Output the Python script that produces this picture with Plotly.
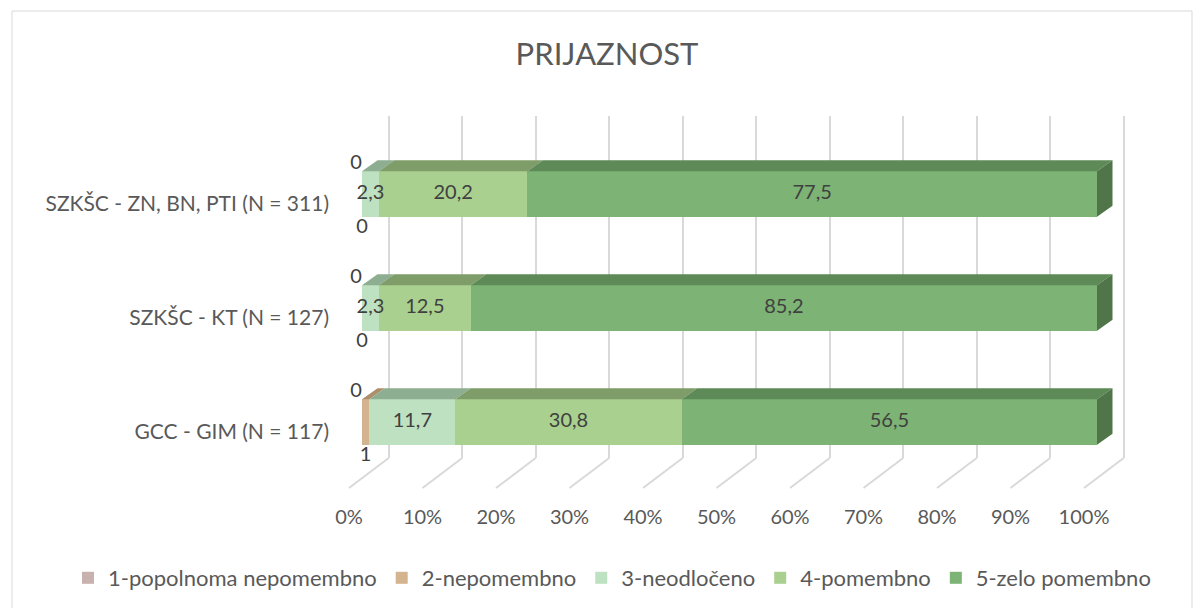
import plotly.graph_objects as go

# ---------------- data ----------------
categories = ["GCC - GIM (N = 117)", "SZKŠC - KT (N = 127)", "SZKŠC - ZN, BN, PTI (N = 311)"]
series_names = ["1-popolnoma nepomembno", "2-nepomembno", "3-neodločeno", "4-pomembno", "5-zelo pomembno"]
s1_values = [0, 0, 0]
s2_values = [1, 0, 0]
s3_values = [11.7, 2.3, 2.3]
s4_values = [30.8, 12.5, 20.2]
s5_values = [56.5, 85.2, 77.5]
x_tick_values = [0, 10, 20, 30, 40, 50, 60, 70, 80, 90, 100]
x_tick_labels = ["0%", "10%", "20%", "30%", "40%", "50%", "60%", "70%", "80%", "90%", "100%"]
title_text = "PRIJAZNOST"

series_values = [s1_values, s2_values, s3_values, s4_values, s5_values]

# ---------------- style ----------------
front_colors = ["#C9B1AE", "#D4B48E", "#BEE1C1", "#A9D08E", "#7DB375"]
top_colors = ["#A38E8B", "#AE8F6C", "#8EAE91", "#7F9D69", "#5D8A57"]
side_color = "#4F7548"
grid_color = "#D9D9D9"
text_color = "#595959"
label_color = "#404040"
FONT = "Lato, Calibri, Carlito, sans-serif"

W, H = 1203, 608
PL, PR, PT, PB = 330, 1150, 100, 503        # plot area in pixels
PX_PER = 7.35                                # px per percent
X0_FRONT, X0_WALL, X0_FLOOR = 362.0, 388.7, 349.0
Y_ROW0, ROW_STEP = 422.0, 114.0
HALF = 0.2                                   # half bar thickness (category units)
DEPTH_DX = 15.5 / PX_PER
DEPTH_DY = 11.0 / ROW_STEP
WALL_TOP_PX, WALL_BOTTOM_PX, FLOOR_FRONT_PX = 116, 458, 488
LABEL_DROP = 10.0 / ROW_STEP
TOP_LABEL_LIFT = 7.0 / ROW_STEP
BOTTOM_LABEL_DROP = 11.0 / ROW_STEP
FIRST_LABEL_SHIFT = -6.0 / PX_PER


def py(px):
    return (Y_ROW0 - px) / ROW_STEP


def fmt(v):
    return str(int(v)) if float(v).is_integer() else f"{v:.1f}".replace(".", ",")


fig = go.Figure()

# dummy trace so the back-wall grid subplot exists
fig.add_trace(go.Scatter(x=[], y=[], xaxis="x", yaxis="y", showlegend=False, hoverinfo="skip"))

# floor diagonals (from the tick values)
fx, fy = [], []
for t in x_tick_values:
    fx += [t + (X0_WALL - X0_FRONT) / PX_PER, t + (X0_FLOOR - X0_FRONT) / PX_PER, None]
    fy += [py(WALL_BOTTOM_PX), py(FLOOR_FRONT_PX), None]
fig.add_trace(go.Scatter(x=fx, y=fy, mode="lines", line=dict(color=grid_color, width=2),
                         xaxis="x2", yaxis="y2", showlegend=False, hoverinfo="skip"))

n_cat = len(categories)
y_pos = list(range(n_cat))

# top faces
cum = [0.0] * n_cat
for i, vals in enumerate(series_values):
    tx, ty = [], []
    for j in range(n_cat):
        x0, x1 = cum[j], cum[j] + vals[j]
        y1 = y_pos[j] + HALF
        tx += [x0, x1, x1 + DEPTH_DX, x0 + DEPTH_DX, x0, None]
        ty += [y1, y1, y1 + DEPTH_DY, y1 + DEPTH_DY, y1, None]
    fig.add_trace(go.Scatter(x=tx, y=ty, mode="lines", fill="toself", fillcolor=top_colors[i],
                             line=dict(width=0, color=top_colors[i]),
                             xaxis="x2", yaxis="y2", showlegend=False, hoverinfo="skip"))
    cum = [cum[j] + vals[j] for j in range(n_cat)]

# side faces at bar end
sx, sy = [], []
for j in range(n_cat):
    xe = cum[j]
    yb, yt = y_pos[j] - HALF, y_pos[j] + HALF
    sx += [xe, xe, xe + DEPTH_DX, xe + DEPTH_DX, xe, None]
    sy += [yb, yt, yt + DEPTH_DY, yb + DEPTH_DY, yb, None]
fig.add_trace(go.Scatter(x=sx, y=sy, mode="lines", fill="toself", fillcolor=side_color,
                         line=dict(width=0, color=side_color),
                         xaxis="x2", yaxis="y2", showlegend=False, hoverinfo="skip"))

# front faces (bars)
for i, vals in enumerate(series_values):
    fig.add_trace(go.Bar(y=y_pos, x=vals, orientation="h", width=2 * HALF, name=series_names[i],
                         marker=dict(color=front_colors[i], line=dict(width=0)),
                         xaxis="x2", yaxis="y2", hoverinfo="x+name"))

# data labels
cum = [0.0] * n_cat
for i, vals in enumerate(series_values):
    lx = [cum[j] + vals[j] / 2 for j in range(n_cat)]
    if i == 0:
        lx = [x + FIRST_LABEL_SHIFT for x in lx]
        ly = [y + HALF + TOP_LABEL_LIFT for y in y_pos]
    elif i == 1:
        ly = [y - HALF - BOTTOM_LABEL_DROP for y in y_pos]
    else:
        ly = list(y_pos)
    fig.add_trace(go.Scatter(x=lx, y=ly, mode="text", text=[fmt(v) for v in vals],
                             textposition="middle center",
                             textfont=dict(family=FONT, size=20, color=label_color),
                             xaxis="x2", yaxis="y2", showlegend=False, hoverinfo="skip",
                             cliponaxis=False))
    cum = [cum[j] + vals[j] for j in range(n_cat)]

pw, ph = PR - PL, PB - PT
fig.update_layout(
    width=W, height=H,
    margin=dict(l=PL, r=W - PR, t=PT, b=H - PB, autoexpand=False),
    paper_bgcolor="white", plot_bgcolor="rgba(0,0,0,0)",
    barmode="stack",
    title=dict(text=title_text, x=607 / W, y=1 - 54 / H, xref="container", yref="container",
               xanchor="center", yanchor="middle",
               font=dict(family=FONT, size=31, color=text_color)),
    font=dict(family=FONT, size=21, color=text_color),
    showlegend=True,
    legend=dict(orientation="h", x=(68 - PL) / pw, y=(PB - 578) / ph, xref="paper", yref="paper",
                xanchor="left", yanchor="middle", traceorder="normal",
                bgcolor="rgba(0,0,0,0)",
                font=dict(family=FONT, size=22, color=text_color)),
    # back wall grid
    xaxis=dict(domain=[0, 1], anchor="y",
               range=[(PL - X0_WALL) / PX_PER, (PR - X0_WALL) / PX_PER],
               tickmode="array", tickvals=x_tick_values, showticklabels=False,
               showgrid=True, gridcolor=grid_color, gridwidth=2, zeroline=False, showline=False),
    yaxis=dict(domain=[(PB - WALL_BOTTOM_PX) / ph, (PB - WALL_TOP_PX) / ph], anchor="x",
               range=[0, 1], visible=False, showgrid=False, zeroline=False),
    # bars
    xaxis2=dict(domain=[0, 1], anchor="y2",
                range=[(PL - X0_FRONT) / PX_PER, (PR - X0_FRONT) / PX_PER],
                showticklabels=False, showgrid=False, zeroline=False, showline=False),
    yaxis2=dict(domain=[0, 1], anchor="x2", range=[py(PB), py(PT)],
                tickmode="array", tickvals=[y - LABEL_DROP for y in y_pos], ticktext=categories,
                showgrid=False, zeroline=False, showline=False, ticks="",
                tickfont=dict(family=FONT, size=21, color=text_color)),
    # percentage tick labels at the floor front
    xaxis3=dict(overlaying="x2", anchor="y2", side="bottom",
                range=[(PL - X0_FLOOR) / PX_PER, (PR - X0_FLOOR) / PX_PER],
                tickmode="array", tickvals=x_tick_values, ticktext=x_tick_labels,
                showgrid=False, zeroline=False, showline=False, ticks="",
                tickfont=dict(family=FONT, size=20, color=text_color)),
)

# put an invisible trace on xaxis3 so it renders
fig.add_trace(go.Scatter(x=[], y=[], xaxis="x3", yaxis="y2", showlegend=False, hoverinfo="skip"))

# chart border
fig.add_shape(type="rect", xref="paper", yref="paper",
              x0=(12 - PL) / pw, x1=(1192 - PL) / pw, y0=(PB - 612) / ph, y1=(PB - 11) / ph,
              line=dict(color=grid_color, width=1), fillcolor="rgba(0,0,0,0)", layer="below")

fig.write_html("out.html", config={"displayModeBar": False},
               post_script="document.body.style.margin='0px';")
